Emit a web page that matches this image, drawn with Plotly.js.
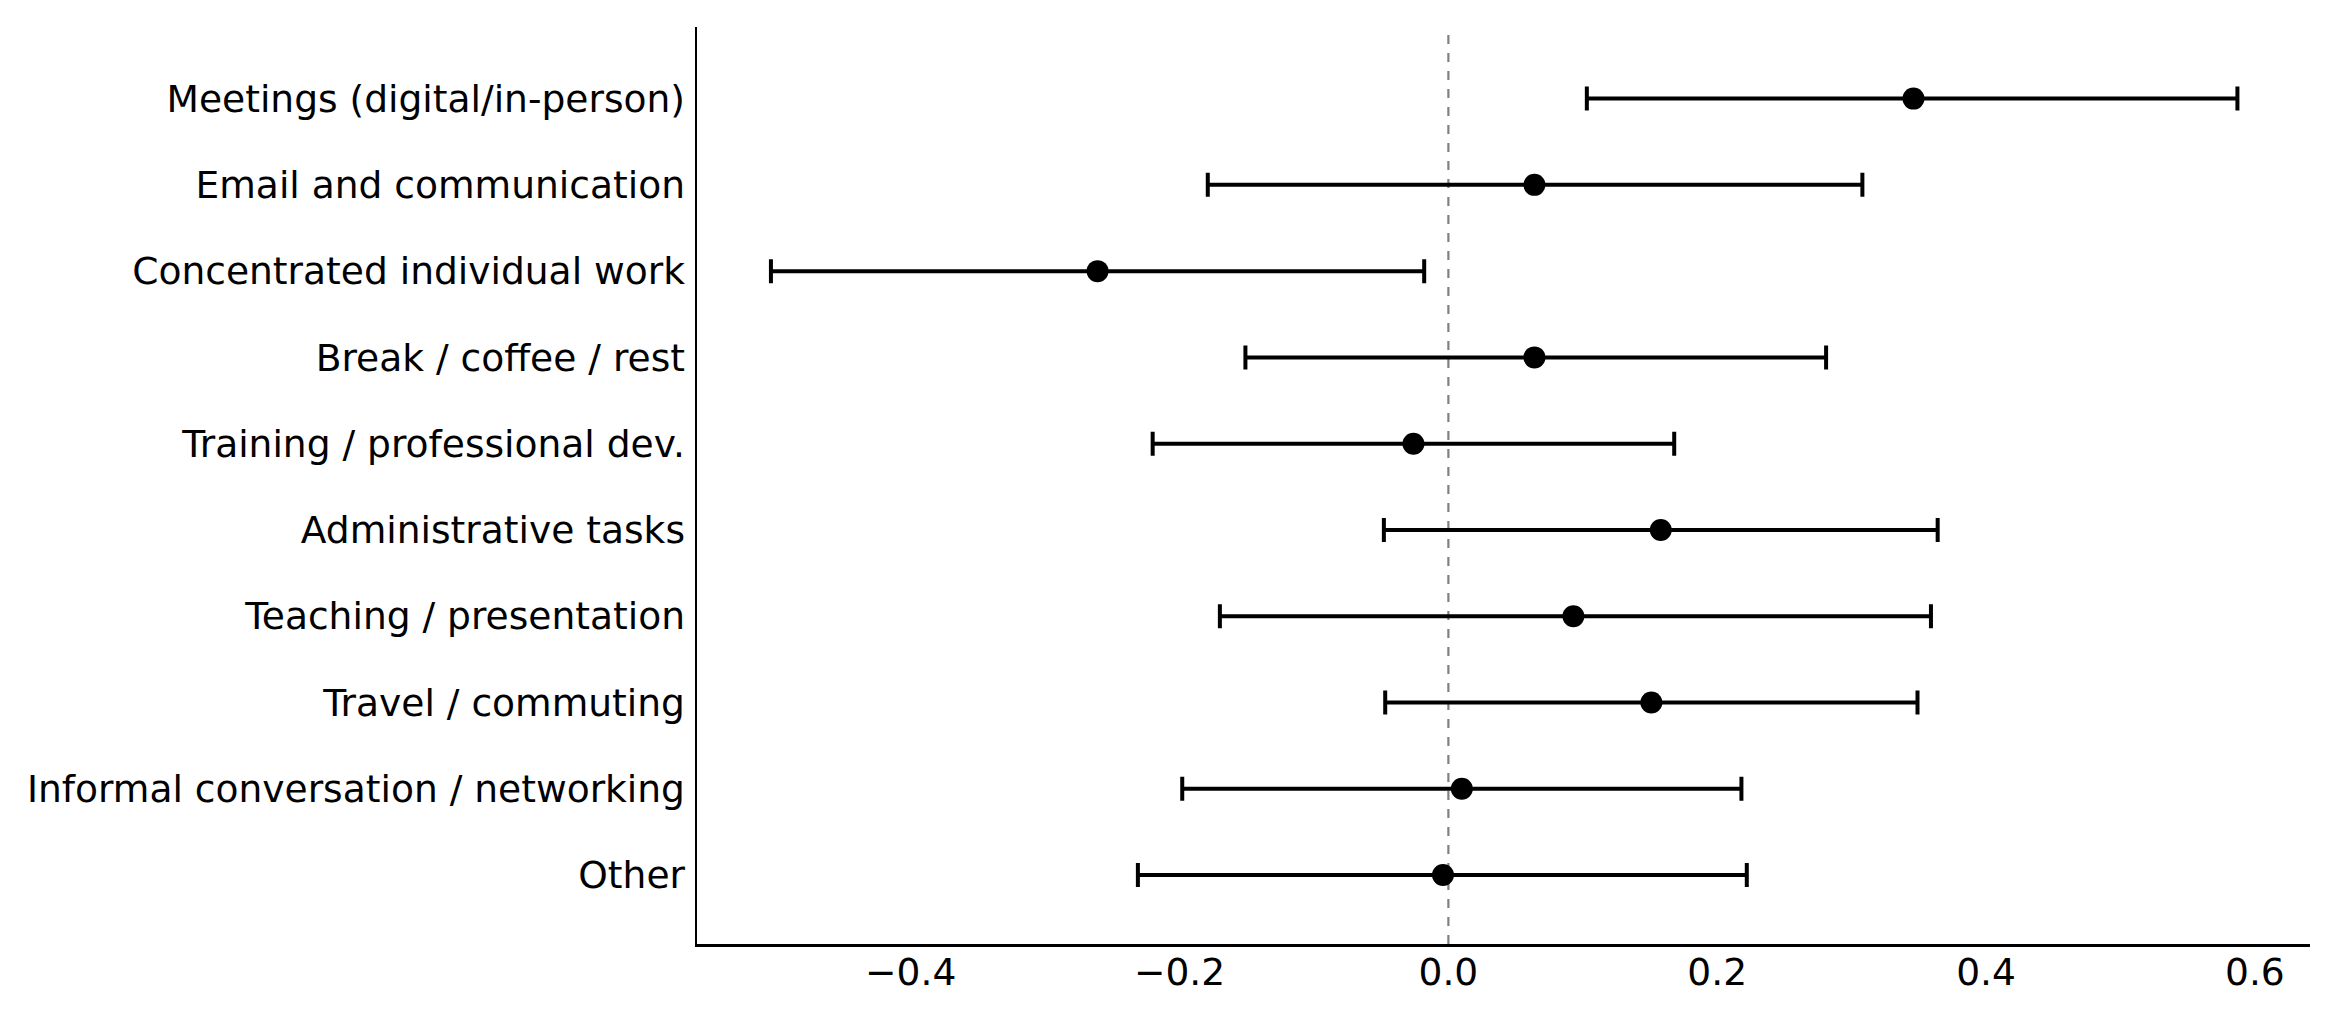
<!DOCTYPE html>
<html>
<head>
<meta charset="utf-8">
<script src="https://cdn.plot.ly/plotly-3.0.1.min.js"></script>
<style>
  html, body { margin: 0; padding: 0; background: #fff; }
  #chart { width: 2342px; height: 1016px; }
</style>
</head>
<body>
<div id="chart"></div>
<script>
// Activities (top to bottom)
const categories = [
  "Meetings (digital/in-person)",
  "Email and communication",
  "Concentrated individual work",
  "Break / coffee / rest",
  "Training / professional dev.",
  "Administrative tasks",
  "Teaching / presentation",
  "Travel / commuting",
  "Informal conversation / networking",
  "Other"
];
// Point estimates
const estimates = [0.346, 0.064, -0.261, 0.064, -0.026, 0.158, 0.093, 0.151, 0.010, -0.004];
// Lower confidence bounds
const lower = [0.103, -0.179, -0.504, -0.151, -0.220, -0.048, -0.170, -0.047, -0.198, -0.231];
// Upper confidence bounds
const upper = [0.587, 0.308, -0.018, 0.281, 0.168, 0.364, 0.359, 0.349, 0.218, 0.222];
// X tick values
const xTicks = [-0.4, -0.2, 0.0, 0.2, 0.4, 0.6];
const xTickLabels = ["\u22120.4", "\u22120.2", "0.0", "0.2", "0.4", "0.6"];

const plus = estimates.map((v, i) => upper[i] - v);
const minus = estimates.map((v, i) => v - lower[i]);

const trace = {
  type: "scatter",
  mode: "markers",
  x: estimates,
  y: categories,
  marker: { color: "#000000", size: 22 },
  error_x: {
    type: "data",
    symmetric: false,
    array: plus,
    arrayminus: minus,
    color: "#000000",
    thickness: 4,
    width: 12
  },
  hoverinfo: "x+y",
  showlegend: false
};

const font = { family: "DejaVu Sans", size: 37.6, color: "#000000" };

const layout = {
  width: 2342,
  height: 1016,
  paper_bgcolor: "#ffffff",
  plot_bgcolor: "#ffffff",
  margin: { l: 697, r: 32, t: 27, b: 72, pad: 0 },
  font: font,
  xaxis: {
    range: [-0.559, 0.641],
    tickvals: xTicks,
    ticktext: xTickLabels,
    ticks: "",
    showgrid: false,
    zeroline: false,
    showline: true,
    linecolor: "#000000",
    linewidth: 2.5,
    tickfont: font,
    ticklabelstandoff: -7
  },
  yaxis: {
    type: "category",
    categoryorder: "array",
    categoryarray: categories,
    range: [9.8, -0.83],
    ticks: "",
    showgrid: false,
    zeroline: false,
    showline: true,
    linecolor: "#000000",
    linewidth: 2.5,
    tickfont: font,
    ticklabelstandoff: 2
  },
  shapes: [{
    type: "line",
    xref: "x", yref: "paper",
    x0: 0, x1: 0, y0: 0, y1: 1,
    line: { color: "#808080", width: 2.2, dash: "dash" },
    layer: "below"
  }]
};

Plotly.newPlot("chart", [trace], layout, { displayModeBar: false, staticPlot: true });
</script>
</body>
</html>
